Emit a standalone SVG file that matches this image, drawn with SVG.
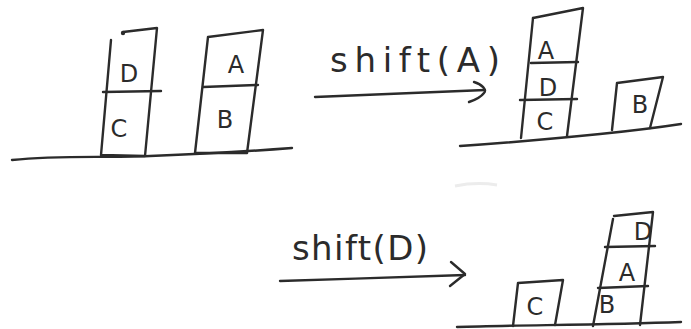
<svg xmlns="http://www.w3.org/2000/svg" width="691" height="329" viewBox="0 0 691 329">
  <style>
    .ink { fill: none; stroke: #2b2b2b; stroke-width: 2.4; stroke-linecap: round; stroke-linejoin: round; }
    .lbl { font-family: "DejaVu Sans", "Liberation Sans", sans-serif; fill: #2b2b2b; font-size: 24px; text-anchor: middle; }
    .op { font-family: "DejaVu Sans", "Liberation Sans", sans-serif; fill: #2b2b2b; font-size: 34px; }
  </style>
  <rect width="691" height="329" fill="#ffffff"/>

  <!-- ground lines -->
  <g id="grounds">
    <path class="ink" d="M12,160 C60,155 100,158 150,156 C200,154 240,152 292,148"/>
    <path class="ink" d="M460,146 C520,142 560,138 600,134 C630,131 655,128 681,124"/>
    <path class="ink" d="M457,327 C520,325 600,325 681,322"/>
  </g>

  <!-- state 1: D on C, A on B -->
  <g id="stack-DC">
    <path class="ink" d="M111,40 L101,155 L145,156 L157,28 L123,32"/>
    <circle cx="123" cy="33" r="2.2" fill="#2b2b2b"/>
    <path class="ink" d="M103,92 L161,91"/>
    <text class="lbl" x="129" y="82" font-size="28">D</text>
    <text class="lbl" x="119" y="137">C</text>
  </g>
  <g id="stack-AB">
    <path class="ink" d="M208,37 L195,153 L247,153 L263,30 L208,37"/>
    <path class="ink" d="M203,87 L258,85"/>
    <text class="lbl" x="236" y="73">A</text>
    <text class="lbl" x="225" y="128">B</text>
  </g>

  <!-- state 2: A on D on C, B alone -->
  <g id="stack-ADC">
    <path class="ink" d="M533,18 L521,138"/>
    <path class="ink" d="M533,18 L583,8 L567,136"/>
    <path class="ink" d="M531,63 L578,62"/>
    <path class="ink" d="M520,100 L577,99"/>
    <text class="lbl" x="546" y="59">A</text>
    <text class="lbl" x="548" y="96">D</text>
    <text class="lbl" x="545" y="130">C</text>
  </g>
  <g id="box-B1">
    <path class="ink" d="M612,130 L617,83 L663,77 L650,128"/>
    <text class="lbl" x="640" y="113">B</text>
  </g>

  <!-- state 3: C alone, D on A on B -->
  <g id="box-C">
    <path class="ink" d="M513,326 L518,283 L563,280 L555,325"/>
    <text class="lbl" x="535" y="315">C</text>
  </g>
  <g id="stack-DAB">
    <path class="ink" d="M613,219 L593,326"/>
    <path class="ink" d="M614,216 L653,212 L640,325"/>
    <path class="ink" d="M605,247 L655,246"/>
    <path class="ink" d="M598,288 L648,286"/>
    <text class="lbl" x="643" y="240">D</text>
    <text class="lbl" x="627" y="281">A</text>
    <text class="lbl" x="607" y="313" font-size="20">B</text>
  </g>

  <!-- operations -->
  <g id="connectors">
    <path class="ink" d="M315,97 C380,94 440,92 485,90"/>
    <path class="ink" d="M474,82 C482,84 487,90 484,93 C481,97 475,100 469,102"/>
    <path class="ink" d="M280,281 C340,279 410,277 465,275"/>
    <path class="ink" d="M451,262 L465,274 L450,286"/>
    <text class="op" x="330" y="72" textLength="170" lengthAdjust="spacing">shift(A)</text>
    <text class="op" x="292" y="260" textLength="136" lengthAdjust="spacing">shift(D)</text>
  </g>

  <!-- faint smudge on the page -->
  <path d="M455,186 C470,183 485,183 497,185" fill="none" stroke="#ececec" stroke-width="3"/>
</svg>
